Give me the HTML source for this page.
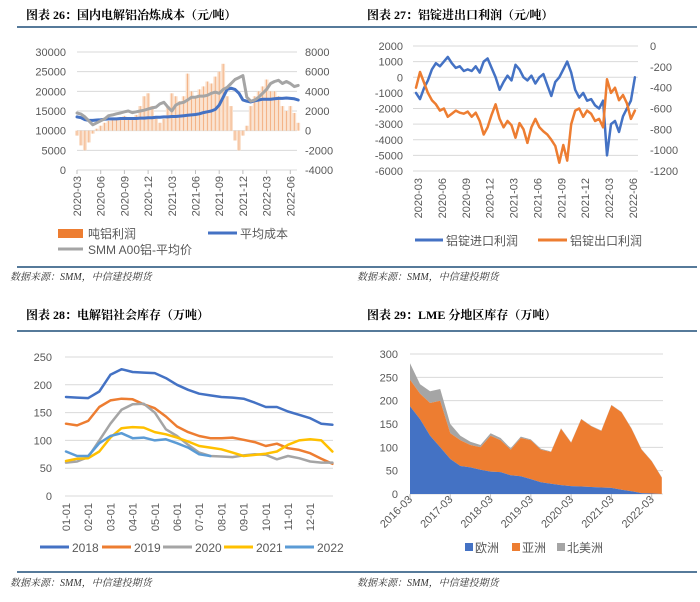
<!DOCTYPE html>
<html><head><meta charset="utf-8"><style>
body{margin:0;background:#fff;}
svg{display:block;font-family:"Liberation Sans","Noto Sans CJK SC",sans-serif;}
.tick{font-size:11px;fill:#595959;}
.title{font-family:"Liberation Serif","Noto Serif CJK SC",serif;font-weight:bold;font-size:12px;fill:#000;}
.src{font-family:"Liberation Serif","Noto Serif CJK SC",serif;font-style:italic;font-size:10px;fill:#333;}
.leg{font-size:12px;fill:#595959;}
</style></head><body>
<svg id="s" width="700" height="602" viewBox="0 0 700 602"></svg>
<script>
// ===== Chart 26 data (semi-monthly, 2020-03 .. 2022-07) =====
const c1Ticks=["2020-03","2020-06","2020-09","2020-12","2021-03","2021-06","2021-09","2021-12","2022-03","2022-06"];
const c1LeftTicks=[0,5000,10000,15000,20000,25000,30000];
const c1RightTicks=[-4000,-2000,0,2000,4000,6000,8000];
const c1Profit=[-500,-1500,-2000,-1200,-300,200,500,800,1000,1200,1300,1100,1500,1200,1300,1600,2500,3500,3800,2500,1500,800,1200,2500,3800,3500,3000,3500,5800,4000,3500,4200,4500,5000,4800,5500,6000,6800,3500,2500,-1000,-2000,-500,500,2500,3500,4000,4500,5200,4000,4000,3500,2500,2000,2500,1800,800];
const c1Cost=[13500,13300,12800,12600,12600,12700,12800,12900,13000,13000,13000,13100,13100,13100,13100,13100,13200,13200,13300,13300,13400,13400,13500,13500,13600,13600,13700,13800,13900,14000,14100,14300,14600,14800,15000,15400,16500,18500,20500,20800,20500,19500,17800,17500,17300,17600,17800,18000,18000,18000,18100,18200,18200,18300,18200,18100,17800];
const c1Price=[14500,14200,13500,12500,11500,12000,12500,13000,13800,14000,14300,14500,14800,15000,14600,14800,15000,15200,15500,15800,16000,16800,17200,16000,15000,16500,17000,17200,17800,18500,18500,18800,18800,19000,19500,19800,19500,20500,21000,22000,23000,23500,24000,18500,17500,17800,18500,19500,20500,22000,22500,22800,22000,22500,22000,21200,21500];
// ===== Chart 27 data (semi-monthly, 2020-03 .. 2022-06) =====
const c2Ticks=["2020-03","2020-06","2020-09","2020-12","2021-03","2021-06","2021-09","2021-12","2022-03","2022-06"];
const c2LeftTicks=[-6000,-5000,-4000,-3000,-2000,-1000,0,1000,2000];
const c2RightTicks=[-1200,-1000,-800,-600,-400,-200,0];
const c2Import=[-1000,-1400,-700,-200,500,900,700,1000,1300,900,600,700,400,500,400,700,300,1000,1200,600,0,-800,-300,100,-200,800,500,0,-200,100,-400,0,200,-500,-1200,-300,0,500,1000,300,-800,-1300,-1000,-1500,-1400,-1800,-2000,-1500,-5000,-3000,-2800,-3500,-2500,-2000,-1500,0];
const c2Export=[-400,-250,-350,-450,-520,-560,-620,-600,-680,-650,-620,-640,-650,-630,-680,-640,-720,-850,-780,-660,-560,-700,-780,-720,-760,-880,-740,-800,-930,-780,-700,-780,-820,-850,-900,-960,-1120,-950,-1100,-750,-620,-600,-680,-620,-650,-720,-700,-780,-320,-450,-400,-520,-470,-550,-700,-620];
// ===== Chart 28 data (semi-monthly, Jan..Dec) =====
const c3Ticks=["01-01","02-01","03-01","04-01","05-01","06-01","07-01","08-01","09-01","10-01","11-01","12-01"];
const c3YTicks=[0,50,100,150,200,250];
const c3Years=["2018","2019","2020","2021","2022"];
const c3Y2018=[178,177,176,188,218,228,223,222,221,212,200,191,184,181,178,177,175,168,160,160,152,146,140,130,128];
const c3Y2019=[130,127,135,160,172,175,174,165,158,143,125,115,108,104,104,105,101,97,90,94,86,83,77,67,58];
const c3Y2020=[60,62,70,100,130,155,165,166,150,120,108,92,78,72,71,70,73,75,74,66,72,68,62,60,60];
const c3Y2021=[63,67,68,80,105,122,124,123,115,111,105,98,90,87,84,78,72,74,76,80,92,100,102,100,80];
const c3Y2022=[80,72,72,95,108,113,104,105,100,102,95,87,75,72];
// ===== Chart 29 data (quarterly, 2016-03 .. 2022-06) =====
const c4Ticks=["2016-03","2017-03","2018-03","2019-03","2020-03","2021-03","2022-03"];
const c4YTicks=[0,50,100,150,200,250,300];
const c4Europe=[188,160,125,100,75,60,57,52,48,47,40,38,32,25,22,19,17,16,15,14,13,9,6,2,1,0];
const c4Asia=[57,55,70,100,55,55,48,48,77,68,55,82,83,70,68,121,93,144,130,121,177,166,134,93,69,35];
const c4NA=[35,20,25,25,20,10,7,5,5,5,3,3,2,2,1,1,1,1,1,1,1,1,1,1,1,1];

const S=document.getElementById('s');
const NS='http://www.w3.org/2000/svg';
function mk(tag,attrs,parent){const e=document.createElementNS(NS,tag);for(const k in attrs)e.setAttribute(k,attrs[k]);(parent||S).appendChild(e);return e;}
function txt(x,y,t,cls,anchor,rot){const e=mk('text',{x:x,y:y,class:cls,'text-anchor':anchor||'start'});if(rot)e.setAttribute('transform','rotate('+rot+' '+x+' '+y+')');e.textContent=t;return e;}
function poly(pts,color,w,parent){return mk('polyline',{points:pts.map(p=>p[0].toFixed(1)+','+p[1].toFixed(1)).join(' '),fill:'none',stroke:color,'stroke-width':w,'stroke-linejoin':'round','stroke-linecap':'round'},parent);}

const titles=[[17,350,'图表 26：国内电解铝冶炼成本（元/吨）',26,19,27],[350,697,'图表 27：铝锭进出口利润（元/吨）',367,19,27],[17,350,'图表 28：电解铝社会库存（万吨）',26,319,331],[350,697,'图表 29：LME 分地区库存（万吨）',367,319,331]];
titles.forEach(a=>{
  const t=txt(a[3],a[4],a[2],'title');
  
  
  const l=mk('line',{x1:a[0],x2:a[1],y1:a[5],y2:a[5],stroke:'#1F4E79','stroke-width':1.5});
  
  
});
[[17,350,267,280],[350,697,267,280],[17,350,572,586],[350,697,572,586]].forEach(a=>{
  const l=mk('line',{x1:a[0],x2:a[1],y1:a[2],y2:a[2],stroke:'#1F4E79','stroke-width':1.5});
  
  
  const t=txt(a[0]===17?10:357,a[3],'数据来源：SMM，中信建投期货','src');
  
  
});

// ===== Chart 1 =====
(function(){
  const g=mk('g',{});
  
  
  const X0=77,X1=297,YT=52,YB=170,MS=7.9;
  const xm=m=>X0+m*MS;
  const yL=v=>YB-(v-0)/30000*(YB-YT);
  const yR=v=>YB-(v+4000)/12000*(YB-YT);
  c1LeftTicks.forEach(v=>{mk('line',{x1:X0,x2:X1,y1:yL(v),y2:yL(v),stroke:'#D9D9D9','stroke-width':1},g);txt(66,yL(v)+4,String(v),'tick','end');});
  c1RightTicks.forEach(v=>{txt(305,yR(v)+4,String(v),'tick','start');});
  c1Ticks.forEach((t,i)=>{const x=xm(i*3);mk('line',{x1:x,x2:x,y1:YB,y2:YB+4,stroke:'#BFBFBF'},g);const e=txt(x+4,176,t,'tick','end',-90);});
  c1Profit.forEach((v,i)=>{const x=xm(i*0.5);const y0=yR(0),y1=yR(v);
    const r=mk('rect',{x:x-1.95,y:Math.min(y0,y1),width:3.9,height:Math.abs(y1-y0),fill:'#FAE0CC'},g);
    
    
    mk('line',{x1:x,x2:x,y1:y0,y2:y1,stroke:'#ED7D31','stroke-width':0.8,opacity:0.55},g);});
  const pc=poly(c1Cost.map((v,i)=>[xm(i*0.5),yL(v)]),'#4472C4',3,g);
  
  
  const pp=poly(c1Price.map((v,i)=>[xm(i*0.5),yL(v)]),'#A5A5A5',3,g);
  
  
  mk('rect',{x:58,y:229,width:25,height:9,fill:'#ED7D31'},g);
  txt(88,238,'吨铝利润','leg');
  mk('line',{x1:208,x2:237,y1:233,y2:233,stroke:'#4472C4','stroke-width':3},g);
  txt(240,238,'平均成本','leg');
  mk('line',{x1:58,x2:83,y1:249,y2:249,stroke:'#A5A5A5','stroke-width':3},g);
  txt(88,254,'SMM A00铝-平均价','leg');
})();

// ===== Chart 2 =====
(function(){
  const g=mk('g',{});
  
  
  const X0=413,X1=638,YT=46,YB=171,MS=7.96,XS=416;
  const xm=m=>XS+m*MS;
  const yL=v=>YB-(v+6000)/8000*(YB-YT);
  const yR=v=>YB-(v+1200)/1200*(YB-YT);
  c2LeftTicks.forEach(v=>{mk('line',{x1:X0,x2:X1,y1:yL(v),y2:yL(v),stroke:'#D9D9D9','stroke-width':1},g);txt(403,yL(v)+4,String(v),'tick','end');});
  c2RightTicks.forEach(v=>{txt(650,yR(v)+4,String(v),'tick','start');});
  c2Ticks.forEach((t,i)=>{const x=418+i*3*MS;const e=txt(x+4,178,t,'tick','end',-90);});
  const pi=poly(c2Import.map((v,i)=>[xm(i*0.5),yL(v)]),'#4472C4',2.5,g);
  
  
  const pe=poly(c2Export.map((v,i)=>[xm(i*0.5),yR(v)]),'#ED7D31',2.5,g);
  
  
  mk('line',{x1:415,x2:443,y1:240,y2:240,stroke:'#4472C4','stroke-width':3},g);
  txt(446,245,'铝锭进口利润','leg');
  mk('line',{x1:538,x2:567,y1:240,y2:240,stroke:'#ED7D31','stroke-width':3},g);
  txt(570,245,'铝锭出口利润','leg');
})();

// ===== Chart 3 =====
(function(){
  const g=mk('g',{});
  
  
  const X0=65,X1=333,YT=357,YB=496,MS=22.2,XS=66;
  const xm=m=>XS+m*MS;
  const y=v=>YB-v/250*(YB-YT);
  c3YTicks.forEach(v=>{mk('line',{x1:X0,x2:X1,y1:y(v),y2:y(v),stroke:'#D9D9D9','stroke-width':1},g);txt(52,y(v)+4,String(v),'tick','end');});
  c3Ticks.forEach((t,i)=>{const x=xm(i);const e=txt(x+4,503,t,'tick','end',-90);});
  const cols=['#4472C4','#ED7D31','#A5A5A5','#FFC000','#5B9BD5'];
  const series=[c3Y2018,c3Y2019,c3Y2020,c3Y2021,c3Y2022];
  series.forEach((s,k)=>{const p=poly(s.map((v,i)=>[xm(i*0.5),y(v)]),cols[k],2.5,g);
    
    });
  const lx=[40,102,163,224,285];
  c3Years.forEach((yr,k)=>{mk('line',{x1:lx[k],x2:lx[k]+29,y1:547,y2:547,stroke:cols[k],'stroke-width':3},g);
    const t=txt(lx[k]+32,552,yr,'leg');
    
    });
})();

// ===== Chart 4 =====
(function(){
  const g=mk('g',{});
  
  
  const X0=410,X1=663,YT=354,YB=494,QS=10.07;
  const xq=q=>X0+q*QS;
  const y=v=>YB-v/300*(YB-YT);
  c4YTicks.forEach(v=>{mk('line',{x1:X0,x2:X1,y1:y(v),y2:y(v),stroke:'#D9D9D9','stroke-width':1},g);txt(398,y(v)+4,String(v),'tick','end');});
  c4Ticks.forEach((t,i)=>{const x=xq(i*4);mk('line',{x1:x,x2:x,y1:YB,y2:YB+4,stroke:'#BFBFBF'},g);const e=txt(x+3,500,t,'tick','end',-45);});
  const n=c4Europe.length;
  const b0=c4Europe.map(()=>0);
  const b1=c4Europe.slice();
  const b2=c4Europe.map((v,i)=>v+c4Asia[i]);
  const b3=b2.map((v,i)=>v+c4NA[i]);
  function area(lo,hi,color,name){
    let pts=[];for(let i=0;i<n;i++)pts.push(xq(i).toFixed(1)+','+y(hi[i]).toFixed(1));
    for(let i=n-1;i>=0;i--)pts.push(xq(i).toFixed(1)+','+y(lo[i]).toFixed(1));
    const p=mk('polygon',{points:pts.join(' '),fill:color},g);
    
    
  }
  area(b2,b3,'#A5A5A5','area-north-america');
  area(b1,b2,'#ED7D31','area-asia');
  area(b0,b1,'#4472C4','area-europe');
  mk('rect',{x:465,y:543,width:8,height:8,fill:'#4472C4'},g);
  txt(475,552,'欧洲','leg');
  mk('rect',{x:512,y:543,width:8,height:8,fill:'#ED7D31'},g);
  txt(522,552,'亚洲','leg');
  mk('rect',{x:557,y:543,width:8,height:8,fill:'#A5A5A5'},g);
  txt(567,552,'北美洲','leg');
})();
</script>
</body></html>
